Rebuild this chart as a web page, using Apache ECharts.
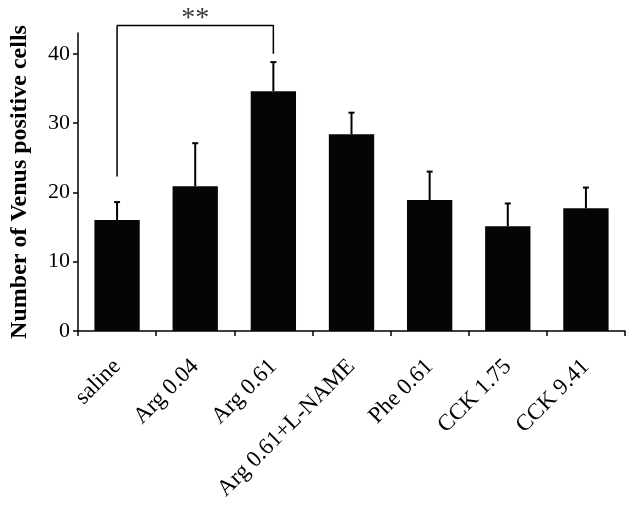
<!DOCTYPE html>
<html><head><meta charset="utf-8">
<script src="https://cdn.jsdelivr.net/npm/echarts@6/dist/echarts.min.js"></script>
<style>html,body{margin:0;padding:0;background:#fff}#c{width:638px;height:517px}</style>
</head><body><div id="c"></div>
<script>
const categories = ['saline','Arg 0.04','Arg 0.61','Arg 0.61+L-NAME','Phe 0.61','CCK 1.75','CCK 9.41'];
const means = [16.0, 20.9, 34.6, 28.4, 18.9, 15.1, 17.7];
const errTops = [18.6, 27.1, 38.8, 31.5, 23.0, 18.4, 20.7];
const yTicks = [0, 10, 20, 30, 40];
const bracket = [['saline', 22.3], ['saline', 44.1], ['Arg 0.61', 44.1], ['Arg 0.61', 40.0]];
const starLabel = [['Arg 0.04', 45.0]];

const font = '"Liberation Serif", "Times New Roman", serif';
const chart = echarts.init(document.getElementById('c'));
chart.setOption({
  animation: false,
  grid: {left: 75, right: 13, top: 33, bottom: 186, containLabel: false},
  xAxis: {
    type: 'category', data: categories, boundaryGap: true,
    axisLine: {lineStyle: {color: '#000', width: 1.5}},
    axisTick: {show: true, length: 5, alignWithLabel: false, lineStyle: {color: '#000', width: 1.5}},
    axisLabel: {rotate: 45, interval: 0, color: '#000', fontFamily: font, fontSize: 23, margin: 32}
  },
  yAxis: {
    type: 'value', min: 0, max: 43,
    name: 'Number of Venus positive cells', nameLocation: 'middle', nameGap: 46,
    nameTextStyle: {fontFamily: font, fontWeight: 'bold', fontSize: 24, color: '#000'},
    axisLine: {show: true, lineStyle: {color: '#000', width: 1.5}},
    axisTick: {show: true, length: 5, customValues: yTicks, lineStyle: {color: '#000', width: 1.5}},
    axisLabel: {customValues: yTicks, color: '#000', fontFamily: font, fontSize: 22, margin: 8},
    splitLine: {show: false}
  },
  series: [
    {type: 'bar', data: means, barWidth: '58%', itemStyle: {color: '#050505'}},
    {type: 'custom', data: means.map((m, i) => [i, m, errTops[i]]), z: 1,
     renderItem: function (params, api) {
       const b = api.coord([api.value(0), api.value(1)]);
       const t = api.coord([api.value(0), api.value(2)]);
       return {type: 'group', children: [
         {type: 'line', shape: {x1: b[0], y1: b[1], x2: t[0], y2: t[1]}, style: {stroke: '#000', lineWidth: 2}},
         {type: 'line', shape: {x1: t[0] - 3, y1: t[1], x2: t[0] + 3, y2: t[1]}, style: {stroke: '#000', lineWidth: 2}}
       ]};
     }},
    {type: 'line', data: bracket, clip: false, symbol: 'none', lineStyle: {color: '#000', width: 1.5}},
    {type: 'scatter', data: starLabel, clip: false, symbolSize: 0,
     label: {show: true, position: 'inside', formatter: '**', fontFamily: font, fontSize: 28, color: '#000'}}
  ]
});
</script></body></html>
